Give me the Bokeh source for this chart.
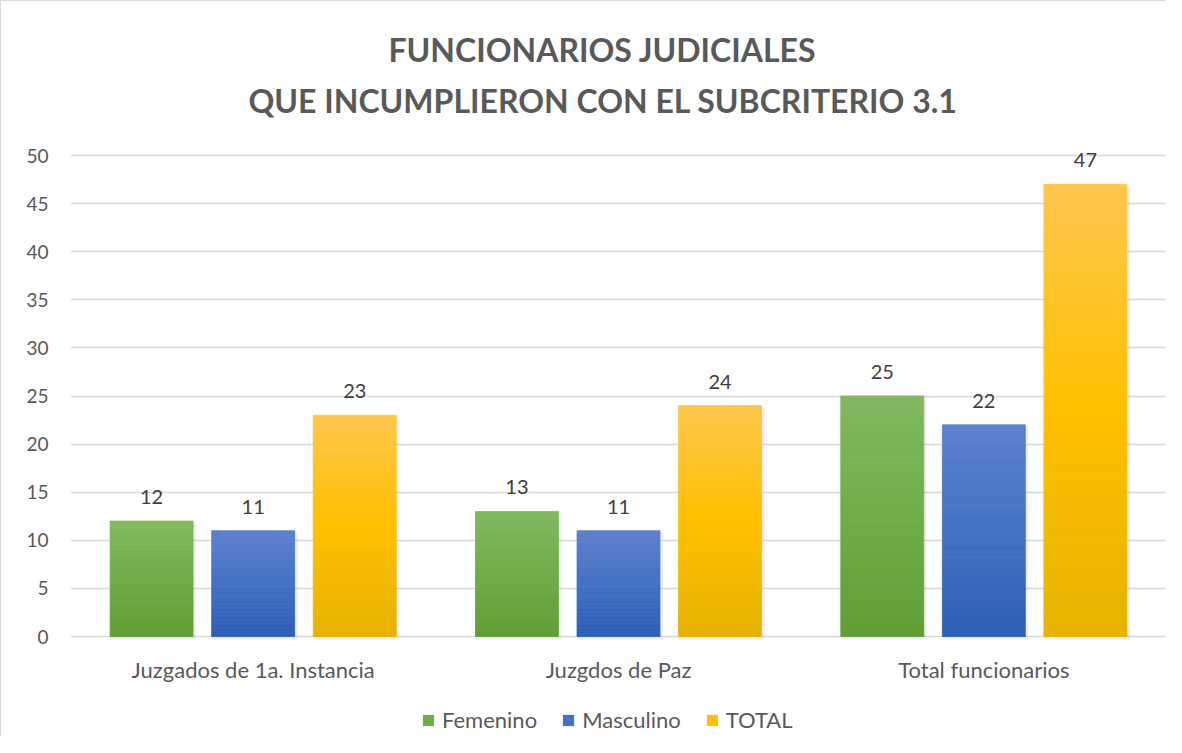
from bokeh.plotting import figure
from bokeh.models import (ColumnDataSource, FactorRange, Legend, LegendItem,
                          Range1d, Title)
from bokeh.transform import dodge
from bokeh.embed import file_html
from bokeh.resources import INLINE
from bokeh.core.properties import value

categories = ["Juzgados de 1a. Instancia", "Juzgdos de Paz", "Total funcionarios"]
series_names = ["Femenino", "Masculino", "TOTAL"]
femenino = [12, 13, 25]
masculino = [11, 11, 22]
total = [23, 24, 47]
y_ticks = [0, 5, 10, 15, 20, 25, 30, 35, 40, 45, 50]
title_lines = ["FUNCIONARIOS JUDICIALES", "QUE INCUMPLIERON CON EL SUBCRITERIO 3.1"]

# gradient stops (top, middle, bottom) per series
grad = {
    "Femenino": [(130, 184, 98), (112, 173, 71), (97, 158, 53)],
    "Masculino": [(93, 129, 205), (68, 114, 196), (46, 94, 182)],
    "TOTAL": [(254, 199, 78), (255, 192, 0), (230, 179, 0)],
}
base = {"Femenino": "#70ad47", "Masculino": "#4472c4", "TOTAL": "#ffc000"}
offsets = {"Femenino": -0.278, "Masculino": 0.0, "TOTAL": 0.278}
values = {"Femenino": femenino, "Masculino": masculino, "TOTAL": total}

FONT = "Lato"
GREY = "#595959"

# layout (pixels)
W, H = 1165, 736
LEFT = 69
FRAME_TOP_PX, ZERO_PX, FIFTY_PX, BOTTOM_PX = 140, 636, 155, 737
TOP = FRAME_TOP_PX - 1
ppu = (ZERO_PX - FIFTY_PX) / 50.0
y_start = -(BOTTOM_PX - ZERO_PX) / ppu
y_end = 50 + (FIFTY_PX - FRAME_TOP_PX) / ppu

p = figure(
    width=W, height=H,
    x_range=FactorRange(factors=categories),
    y_range=Range1d(y_start, y_end),
    output_backend="svg", toolbar_location=None,
    min_border_left=LEFT, min_border_right=0, min_border_top=TOP, min_border_bottom=0,
    outline_line_color=None,
    styles={"border-left": "1px solid #d9d9d9", "border-top": "1px solid #d9d9d9"},
)

p.add_layout(Title(text=title_lines[1], align="left", text_font=FONT,
                   text_font_size="32px", text_font_style="bold",
                   text_color=GREY, offset=178, standoff=41), "above")
p.add_layout(Title(text=title_lines[0], align="left", text_font=FONT,
                   text_font_size="32px", text_font_style="bold",
                   text_color=GREY, offset=318, standoff=-21), "above")


def mix(c1, c2, f):
    return "#%02x%02x%02x" % tuple(int(round(a + (b - a) * f)) for a, b in zip(c1, c2))


N = 40
legend_items = []
for name in series_names:
    vals = values[name]
    off = offsets[name]
    stops = grad[name]
    shadow = ColumnDataSource(dict(cat=categories, top=[v - 0.15 for v in vals]))
    p.vbar(x=dodge("cat", off + 0.004, range=p.x_range), top="top", bottom=-0.3,
           width=0.235, source=shadow, fill_color="#7f7f7f", fill_alpha=0.12,
           line_color=None)
    cats, bots, tops, cols = [], [], [], []
    for c, v in zip(categories, vals):
        for k in range(N):
            f = (k + 0.5) / N
            if f < 0.5:
                col = mix(stops[0], stops[1], f / 0.5)
            else:
                col = mix(stops[1], stops[2], (f - 0.5) / 0.5)
            cats.append(c)
            tops.append(v * (1 - k / N))
            bots.append(v * (1 - (k + 1) / N))
            cols.append(col)
    src = ColumnDataSource(dict(cat=cats, top=tops, bottom=bots, color=cols))
    p.vbar(x=dodge("cat", off, range=p.x_range), top="top", bottom="bottom",
           width=0.227, source=src, fill_color="color", line_color="color",
           line_width=0.8)
    lbl = ColumnDataSource(dict(cat=categories, val=vals, txt=[str(v) for v in vals]))
    p.text(x=dodge("cat", off, range=p.x_range), y="val", text="txt", source=lbl,
           text_align="center", text_baseline="alphabetic", y_offset=-24,
           text_font=value(FONT), text_font_size="20px", text_color="#404040")
    r = p.vbar(x=[categories[0]], top=[0], width=0.0,
               fill_color=base[name], line_color=None)
    legend_items.append(LegendItem(label=name, renderers=[r]))

# category labels under the baseline
cat_src = ColumnDataSource(dict(cat=categories, y=[0] * len(categories)))
p.text(x="cat", y="y", text="cat", source=cat_src, text_align="center",
       text_baseline="middle", y_offset=33, text_font=value(FONT),
       text_font_size="22px", text_color=GREY)

legend = Legend(items=legend_items, orientation="horizontal", location=(351, 4),
                glyph_width=14, glyph_height=14, label_standoff=7, spacing=24,
                padding=0, margin=0, border_line_color=None,
                background_fill_alpha=0, label_text_font=FONT,
                label_text_font_size="22px", label_text_color=GREY)
p.add_layout(legend, "center")

p.xaxis.visible = False
p.yaxis.ticker = y_ticks
p.yaxis.axis_line_color = None
p.yaxis.major_tick_line_color = None
p.yaxis.minor_tick_line_color = None
p.yaxis.major_label_text_font = FONT
p.yaxis.major_label_text_font_size = "19px"
p.yaxis.major_label_text_color = GREY
p.yaxis.major_label_standoff = 16

p.xgrid.grid_line_color = None
p.ygrid.grid_line_color = "#d9d9d9"
p.ygrid.grid_line_width = 1.5
p.ygrid.ticker = y_ticks

open("out.html", "w").write(file_html(p, INLINE))
